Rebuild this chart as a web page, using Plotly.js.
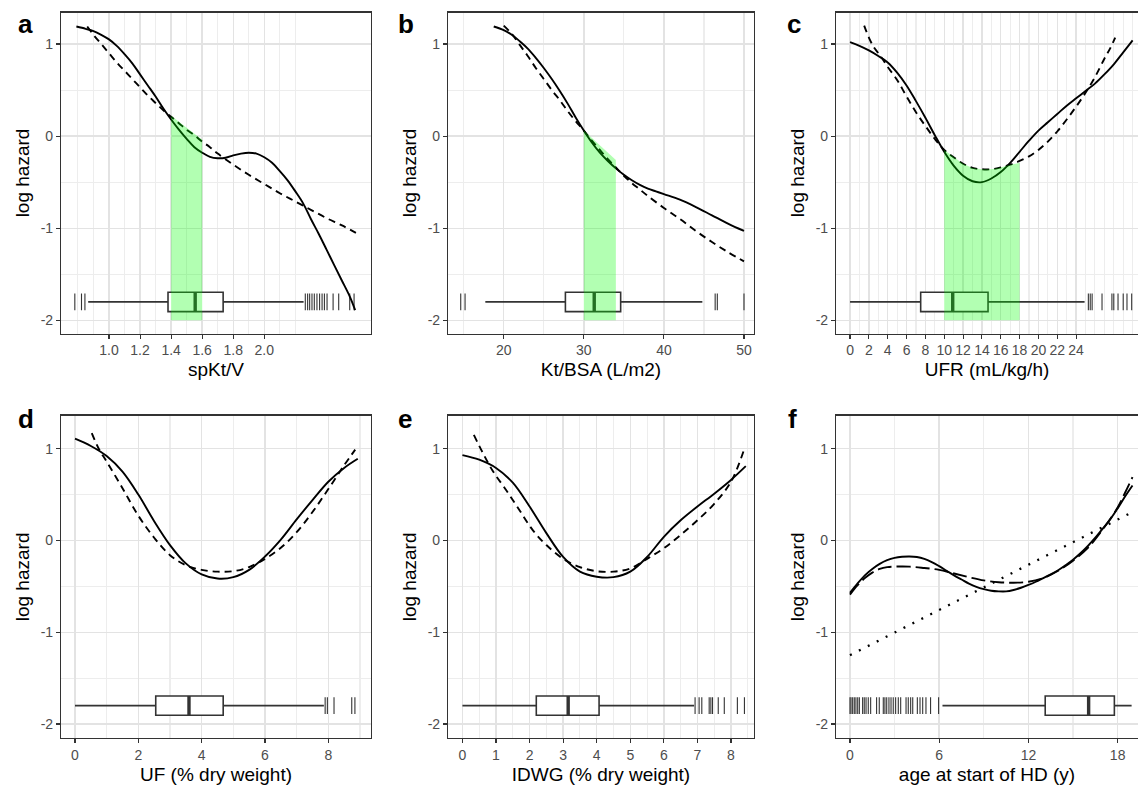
<!DOCTYPE html>
<html><head><meta charset="utf-8">
<script src="https://cdn.plot.ly/plotly-3.0.1.min.js"></script>
<style>html,body{margin:0;padding:0;background:#fff}#chart{width:1138px;height:791px}</style>
</head><body><div id="chart"></div><script>
// ---------- Panel a: spKt/V ----------
const spktvSolidX = [0.79,0.85,0.90,0.95,1.00,1.05,1.10,1.15,1.20,1.25,1.30,1.35,1.40,1.45,1.50,1.55,1.60,1.65,1.70,1.75,1.80,1.85,1.90,1.95,2.00,2.05,2.10,2.15,2.20,2.25,2.30,2.35,2.40,2.45,2.50,2.55,2.585];
const spktvSolidY = [1.19,1.165,1.14,1.10,1.05,0.98,0.89,0.79,0.67,0.55,0.43,0.30,0.18,0.07,-0.03,-0.12,-0.18,-0.225,-0.24,-0.235,-0.21,-0.19,-0.18,-0.19,-0.23,-0.29,-0.38,-0.48,-0.60,-0.73,-0.90,-1.06,-1.23,-1.40,-1.57,-1.74,-1.89];
const spktvDashX = [0.86,0.90,0.95,1.00,1.05,1.10,1.15,1.20,1.25,1.30,1.35,1.40,1.45,1.50,1.55,1.60,1.65,1.70,1.80,1.90,2.00,2.10,2.20,2.30,2.40,2.50,2.59];
const spktvDashY = [1.19,1.10,1.00,0.90,0.80,0.71,0.62,0.53,0.44,0.36,0.28,0.21,0.14,0.07,0.01,-0.06,-0.12,-0.19,-0.31,-0.42,-0.52,-0.62,-0.71,-0.80,-0.89,-0.97,-1.05];
const spktvBandX = [1.4,1.5,1.6];
const spktvBandTop = [0.22,0.09,-0.04];
const spktvBox = [0.866,1.38,1.555,1.735,2.253]; // lower fence, q1, median, q3, upper fence
const spktvOutliers = [0.78,0.823,0.845,2.264,2.279,2.292,2.307,2.322,2.339,2.356,2.372,2.387,2.404,2.443,2.479,2.55,2.578];
const spktvTicks = [1.0,1.2,1.4,1.6,1.8,2.0];
const spktvTickText = ['1.0','1.2','1.4','1.6','1.8','2.0'];
const spktvMinor = [0.8,0.9,1.1,1.3,1.5,1.7,1.9,2.1,2.2];

// ---------- Panel b: Kt/BSA ----------
const ktbsaSolidX = [18.75,20,21,22,23,24,25,26,27,28,29,30,31,32,33,34,35,36,37,38,39,40,42,44,46,48,50];
const ktbsaSolidY = [1.19,1.15,1.10,1.03,0.95,0.85,0.74,0.62,0.49,0.35,0.20,0.06,-0.07,-0.18,-0.27,-0.35,-0.42,-0.48,-0.53,-0.57,-0.60,-0.63,-0.69,-0.77,-0.86,-0.95,-1.03];
const ktbsaDashX = [20,21,22,23,24,25,26,27,28,29,30,31,32,33,34,35,36,37,38,40,42,44,46,48,50];
const ktbsaDashY = [1.20,1.11,0.99,0.87,0.74,0.62,0.50,0.39,0.27,0.16,0.06,-0.05,-0.15,-0.25,-0.34,-0.43,-0.51,-0.58,-0.65,-0.78,-0.90,-1.03,-1.15,-1.26,-1.36];
const ktbsaBandX = [30,32,34];
const ktbsaBandTop = [0.06,-0.10,-0.26];
const ktbsaBox = [17.7,27.7,31.3,34.6,44.8];
const ktbsaOutliers = [14.63,15.17,46.4,46.67,50];
const ktbsaTicks = [20,30,40,50];
const ktbsaMinor = [15,25,35,45];

// ---------- Panel c: UFR ----------
const ufrSolidX = [0,1,2,3,4,5,6,7,8,9,10,11,12,13,14,15,16,17,18,19,20,21,22,23,24,25,26,27,28,29,30];
const ufrSolidY = [1.02,0.98,0.93,0.87,0.80,0.69,0.55,0.38,0.20,0.01,-0.17,-0.32,-0.43,-0.49,-0.50,-0.46,-0.39,-0.29,-0.17,-0.05,0.06,0.15,0.24,0.33,0.41,0.49,0.57,0.67,0.78,0.91,1.04];
const ufrDashX = [1.5,2,2.5,3,3.5,4,5,6,7,8,9,10,11,12,13,14,15,16,17,18,19,20,21,22,23,24,25,26,27,27.6,28.15];
const ufrDashY = [1.20,1.07,0.97,0.90,0.83,0.75,0.61,0.43,0.26,0.11,-0.03,-0.15,-0.23,-0.30,-0.345,-0.36,-0.36,-0.34,-0.31,-0.27,-0.22,-0.15,-0.06,0.05,0.18,0.32,0.47,0.64,0.84,0.95,1.07];
const ufrBandX = [10,11,12,13,14,15,16,17,18];
const ufrBandTop = [-0.15,-0.23,-0.30,-0.345,-0.36,-0.36,-0.34,-0.31,-0.29];
const ufrBox = [0,7.5,10.9,14.65,24.9];
const ufrOutliers = [25.3,25.5,25.7,26.75,27.8,28.0,28.45,29.0,29.4,29.9];
const ufrTicks = [0,2,4,6,8,10,12,14,16,18,20,22,24];
const ufrMinor = [1,3,5,7,9,11,13,15,17,19,21,23,25,26,27,28,29,30];

// ---------- Panel d: UF ----------
const ufSolidX = [0,0.5,1,1.5,2,2.5,3,3.5,4,4.5,5,5.5,6,6.5,7,7.5,8,8.5,8.93];
const ufSolidY = [1.11,1.03,0.92,0.75,0.50,0.21,-0.05,-0.25,-0.37,-0.415,-0.40,-0.32,-0.175,0.01,0.23,0.44,0.64,0.79,0.89];
const ufDashX = [0.53,0.75,1,1.5,2,2.5,3,3.5,4,4.5,5,5.5,6,6.5,7,7.5,8,8.5,8.85];
const ufDashY = [1.17,1.00,0.86,0.57,0.27,0.03,-0.16,-0.27,-0.32,-0.34,-0.335,-0.29,-0.20,-0.08,0.09,0.31,0.56,0.82,0.99];
const ufBox = [0,2.55,3.6,4.68,7.86];
const ufOutliers = [7.9,7.97,8.18,8.74,8.84];
const ufTicks = [0,2,4,6,8];
const ufMinor = [1,3,5,7,9];

// ---------- Panel e: IDWG ----------
const idwgSolidX = [0,0.5,1,1.5,2,2.5,3,3.5,4,4.5,5,5.5,6,6.5,7,7.5,8,8.44];
const idwgSolidY = [0.93,0.88,0.79,0.63,0.37,0.08,-0.18,-0.34,-0.395,-0.40,-0.34,-0.18,0.04,0.22,0.37,0.51,0.66,0.81];
const idwgDashX = [0.34,0.6,0.9,1.3,1.7,2.1,2.5,3,3.5,4,4.5,5,5.5,6,6.5,7,7.5,8,8.37];
const idwgDashY = [1.15,0.96,0.76,0.55,0.33,0.11,-0.05,-0.20,-0.29,-0.335,-0.34,-0.305,-0.20,-0.085,0.06,0.22,0.40,0.64,0.97];
const idwgBox = [0,2.2,3.15,4.07,6.9];
const idwgOutliers = [6.93,7.05,7.13,7.35,7.4,7.45,7.62,7.8,8.19,8.4];
const idwgTicks = [0,1,2,3,4,5,6,7,8];
const idwgMinor = [0.5,1.5,2.5,3.5,4.5,5.5,6.5,7.5,8.5];

// ---------- Panel f: age at start of HD ----------
const ageSolidX = [0,0.5,1,1.5,2,2.5,3,3.5,4,4.5,5,5.5,6,6.5,7,7.5,8,8.5,9,9.5,10,10.5,11,11.5,12,12.5,13,13.5,14,14.5,15,15.5,16,16.5,17,17.5,18,18.5,19];
const ageSolidY = [-0.57,-0.47,-0.38,-0.31,-0.255,-0.215,-0.19,-0.178,-0.175,-0.18,-0.20,-0.235,-0.28,-0.33,-0.38,-0.425,-0.47,-0.505,-0.53,-0.548,-0.555,-0.555,-0.54,-0.515,-0.485,-0.45,-0.41,-0.37,-0.325,-0.27,-0.21,-0.14,-0.06,0.03,0.13,0.23,0.35,0.48,0.60];
const ageDashX = [0,0.5,1,1.5,2,2.5,3,4,5,6,7,8,9,10,11,12,13,14,15,16,17,18,18.5,19];
const ageDashY = [-0.59,-0.49,-0.41,-0.35,-0.31,-0.29,-0.285,-0.285,-0.30,-0.32,-0.36,-0.40,-0.435,-0.455,-0.46,-0.45,-0.41,-0.33,-0.22,-0.08,0.12,0.36,0.52,0.69];
const ageLinearX = [0,19];
const ageLinearY = [-1.25,0.31];
const ageBox = [6.22,13.13,16.05,17.78,18.94];
const ageOutliers = [0,0.07,0.18,0.29,0.4,0.52,0.63,0.85,0.96,1.08,1.23,1.39,1.79,1.97,2.24,2.35,2.47,2.62,2.76,2.91,3.07,3.25,3.41,3.77,3.92,4.08,4.22,4.53,4.71,4.89,5.11,5.42,5.96];
const ageTicks = [0,6,12,18];
const ageMinor = [3,9,15];

// ---------- shared ----------
const yTicks = [-2,-1,0,1];
const yTickText = ['-2','-1','0','1'];
const yMinor = [-1.5,-0.5,0.5];
const boxY = -1.8;
const bandFloor = -2;

const W = 1138, H = 791;
const FONT = 'Liberation Sans, Arial, Helvetica, sans-serif';

const panels = [
  {letter:'a', lx:16, ly:24, xd:[61,371], yd:[12.5,333.5], xr:[0.691,2.687], yr:[-2.143,1.342], ticks:spktvTicks, ticktext:spktvTickText, minor:spktvMinor, title:'spKt/V', right:true,
   solid:[spktvSolidX,spktvSolidY], dash:[spktvDashX,spktvDashY], band:[spktvBandX,spktvBandTop], box:spktvBox, out:spktvOutliers},
  {letter:'b', lx:396, ly:24, xd:[448,754], yd:[12.5,333.5], xr:[13.04,51.25], yr:[-2.143,1.342], ticks:ktbsaTicks, minor:ktbsaMinor, title:'Kt/BSA (L/m2)', right:true,
   solid:[ktbsaSolidX,ktbsaSolidY], dash:[ktbsaDashX,ktbsaDashY], band:[ktbsaBandX,ktbsaBandTop], box:ktbsaBox, out:ktbsaOutliers},
  {letter:'c', lx:785, ly:24, xd:[836,1138], yd:[12.5,333.5], xr:[-1.49,30.57], yr:[-2.143,1.342], ticks:ufrTicks, minor:ufrMinor, title:'UFR (mL/kg/h)', right:false,
   solid:[ufrSolidX,ufrSolidY], dash:[ufrDashX,ufrDashY], band:[ufrBandX,ufrBandTop], box:ufrBox, out:ufrOutliers},
  {letter:'d', lx:16, ly:419, xd:[61,371], yd:[415.5,738.3], xr:[-0.442,9.348], yr:[-2.156,1.362], ticks:ufTicks, minor:ufMinor, title:'UF (% dry weight)', right:true,
   solid:[ufSolidX,ufSolidY], dash:[ufDashX,ufDashY], box:ufBox, out:ufOutliers},
  {letter:'e', lx:396, ly:419, xd:[448,754], yd:[415.5,738.3], xr:[-0.43,8.685], yr:[-2.156,1.362], ticks:idwgTicks, minor:idwgMinor, title:'IDWG (% dry weight)', right:true,
   solid:[idwgSolidX,idwgSolidY], dash:[idwgDashX,idwgDashY], box:idwgBox, out:idwgOutliers},
  {letter:'f', lx:786, ly:419, xd:[836,1138], yd:[415.5,738.3], xr:[-0.94,19.37], yr:[-2.156,1.362], ticks:ageTicks, minor:ageMinor, title:'age at start of HD (y)', right:false,
   solid:[ageSolidX,ageSolidY], dash:[ageDashX,ageDashY], dashStyle:'14px,5px', linear:[ageLinearX,ageLinearY], box:ageBox, out:ageOutliers}
];

const boxTraces = [], lineTraces = [], topTraces = [];
const layout = {
  width: W, height: H, margin:{l:0,r:0,t:0,b:0},
  paper_bgcolor:'#ffffff', plot_bgcolor:'#ffffff', showlegend:false,
  font:{family:FONT, color:'#000'},
  annotations:[]
};

panels.forEach((p, i) => {
  const n = i === 0 ? '' : String(i + 1);
  const xa = 'x' + n, ya = 'y' + n;
  const grid = {showgrid:true, gridcolor:'#E3E3E3', gridwidth:1.4};
  const minorGrid = {showgrid:true, gridcolor:'#EDEDED', gridwidth:1.1, ticks:''};
  layout['xaxis' + n] = Object.assign({
    domain:[p.xd[0]/W, p.xd[1]/W], range:p.xr, anchor:ya,
    tickmode:'array', tickvals:p.ticks, ticktext:p.ticktext || p.ticks.map(String),
    ticks:'outside', ticklen:4, tickwidth:1.1, tickcolor:'#333333',
    tickfont:{size:14, color:'#4D4D4D', family:FONT},
    minor:Object.assign({tickvals:p.minor}, minorGrid),
    zeroline:false, showline:true, linecolor:'#333333', linewidth:1.1, mirror:true,
    title:{text:p.title, font:{size:19, color:'#000', family:FONT}, standoff:5},
    fixedrange:true
  }, grid);
  layout['yaxis' + n] = Object.assign({
    domain:[1 - p.yd[1]/H, 1 - p.yd[0]/H], range:p.yr, anchor:xa,
    tickmode:'array', tickvals:yTicks, ticktext:yTickText,
    ticks:'outside', ticklen:4, tickwidth:1.1, tickcolor:'#333333',
    tickfont:{size:14, color:'#4D4D4D', family:FONT},
    minor:Object.assign({tickvals:yMinor}, minorGrid),
    zeroline:false, showline:true, linecolor:'#333333', linewidth:1.1, mirror:p.right,
    title:{text:'log hazard', font:{size:19, color:'#000', family:FONT}, standoff:6},
    fixedrange:true
  }, grid);

  // boxplot (precomputed statistics)
  boxTraces.push({
    type:'box', orientation:'h', xaxis:xa, yaxis:ya,
    y:[boxY], lowerfence:[p.box[0]], q1:[p.box[1]], median:[p.box[2]], q3:[p.box[3]], upperfence:[p.box[4]],
    width:0.21, whiskerwidth:0, fillcolor:'#ffffff',
    line:{color:'#333333', width:1.6}, boxpoints:false, hoverinfo:'skip'
  });
  // thick median bar
  lineTraces.push({type:'scatter', mode:'lines', xaxis:xa, yaxis:ya,
    x:[p.box[2], p.box[2]], y:[boxY - 0.105, boxY + 0.105],
    line:{color:'#333333', width:3.4}, hoverinfo:'skip'});
  // outliers as vertical ticks
  lineTraces.push({type:'scatter', mode:'markers', xaxis:xa, yaxis:ya,
    x:p.out, y:p.out.map(() => boxY),
    marker:{symbol:'line-ns', size:12, line:{width:1.1, color:'#333333'}}, hoverinfo:'skip'});
  // curves
  if (p.linear) {
    lineTraces.push({type:'scatter', mode:'lines', xaxis:xa, yaxis:ya, x:p.linear[0], y:p.linear[1],
      line:{color:'#000', width:2.3, dash:'2px,8px'}, hoverinfo:'skip'});
  }
  lineTraces.push({type:'scatter', mode:'lines', xaxis:xa, yaxis:ya, x:p.dash[0], y:p.dash[1],
    line:{color:'#000', width:1.9, dash:p.dashStyle || '7px,5px', shape:'spline', smoothing:1}, hoverinfo:'skip'});
  lineTraces.push({type:'scatter', mode:'lines', xaxis:xa, yaxis:ya, x:p.solid[0], y:p.solid[1],
    line:{color:'#000', width:1.9, shape:'spline', smoothing:1}, hoverinfo:'skip'});
  // green band, drawn on top
  if (p.band) {
    const bx = p.band[0], bt = p.band[1];
    topTraces.push({type:'scatter', mode:'lines', xaxis:xa, yaxis:ya,
      x: bx.concat([bx[bx.length-1], bx[0]]),
      y: bt.concat([bandFloor, bandFloor]),
      fill:'toself', fillcolor:'rgba(0,255,0,0.3)', line:{width:0, color:'rgba(0,0,0,0)', shape:'linear'}, hoverinfo:'skip'});
  }
  layout.annotations.push({text:p.letter, xref:'paper', yref:'paper', x:p.lx/W, y:1 - p.ly/H,
    xanchor:'left', yanchor:'middle', showarrow:false, font:{size:26, color:'#000', family:FONT, weight:700}});
});

Plotly.newPlot('chart', boxTraces.concat(lineTraces, topTraces), layout, {staticPlot:true, displayModeBar:false});
</script></body></html>
